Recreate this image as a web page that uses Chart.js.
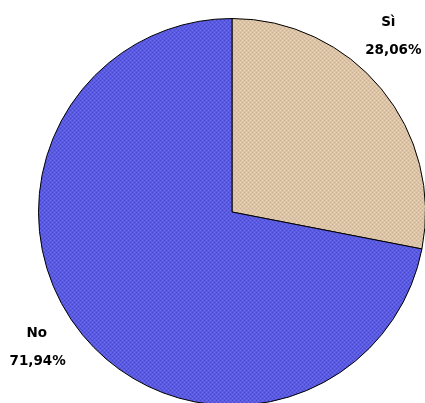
<!DOCTYPE html>
<html>
<head>
<meta charset="utf-8">
<script src="https://cdn.jsdelivr.net/npm/chart.js@4/dist/chart.umd.min.js"></script>
<style>
  html, body { margin: 0; padding: 0; background: #ffffff; overflow: hidden; width: 425px; height: 403px; }
  #c { display: block; }
</style>
</head>
<body>
<canvas id="c" width="430" height="420"></canvas>
<script>
const categories = ["Sì", "No"];
const percentValues = [28.06, 71.94];
const percentLabels = ["28,06%", "71,94%"];
const sliceColors = ["#dcc3a6", "#5a5ae2"];

function makePattern(base, dark, light) {
  const p = document.createElement('canvas');
  p.width = 4; p.height = 4;
  const g = p.getContext('2d');
  g.fillStyle = base; g.fillRect(0, 0, 4, 4);
  g.fillStyle = dark; g.fillRect(0, 0, 1, 1); g.fillRect(2, 2, 1, 1);
  g.fillStyle = light; g.fillRect(2, 0, 1, 1); g.fillRect(0, 2, 1, 1);
  return g.createPattern(p, 'repeat');
}
const fills = [
  makePattern(sliceColors[0], "#cdb294", "#ead6bd"),
  makePattern(sliceColors[1], "#4848cc", "#6c6cf0")
];

// label offsets relative to the arc's outer edge point at mid-angle (placement only)
const labelOffsets = [{dx: 7, dy: -52}, {dx: -46, dy: 12}];

const labelPlugin = {
  id: 'outerLabels',
  afterDatasetsDraw(chart) {
    const ctx = chart.ctx;
    const meta = chart.getDatasetMeta(0);
    ctx.save();
    ctx.fillStyle = '#000000';
    ctx.font = 'bold 13.5px "DejaVu Sans"';
    ctx.textAlign = 'center';
    ctx.textBaseline = 'middle';
    meta.data.forEach((arc, i) => {
      const mid = (arc.startAngle + arc.endAngle) / 2;
      const ex = arc.x + Math.cos(mid) * arc.outerRadius;
      const ey = arc.y + Math.sin(mid) * arc.outerRadius;
      const x = ex + labelOffsets[i].dx;
      const y = ey + labelOffsets[i].dy;
      ctx.fillText(categories[i], x, y - 14);
      ctx.fillText(percentLabels[i], x + (i === 0 ? 5 : 1), y + 14);
    });
    ctx.restore();
  }
};

new Chart(document.getElementById('c'), {
  type: 'pie',
  data: {
    labels: categories,
    datasets: [{
      data: percentValues,
      backgroundColor: fills,
      borderColor: '#000000',
      borderWidth: 1,
      borderAlign: 'center'
    }]
  },
  options: {
    responsive: false,
    animation: false,
    events: [],
    rotation: 0,
    layout: { padding: { left: 38, right: 4, top: 18, bottom: 14 } },
    plugins: {
      legend: { display: false },
      tooltip: { enabled: false },
      title: { display: false }
    }
  },
  plugins: [labelPlugin]
});
</script>
</body>
</html>
